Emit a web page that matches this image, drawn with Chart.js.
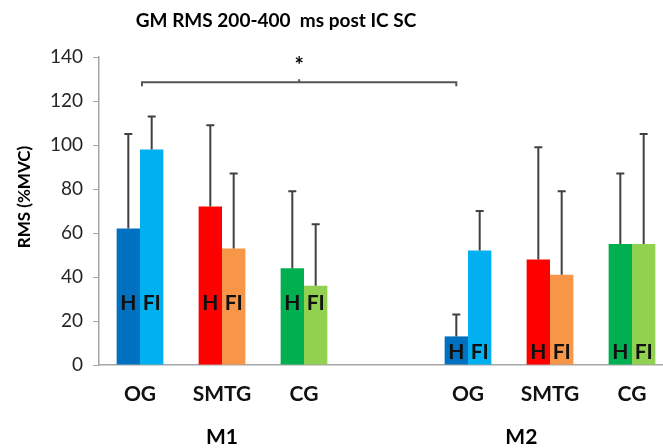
<!DOCTYPE html>
<html>
<head>
<meta charset="utf-8">
<script src="https://cdn.jsdelivr.net/npm/chart.js@4"></script>
<style>
  html, body { margin: 0; padding: 0; background: #fff; overflow: hidden; width: 663px; height: 448px; }
  #wrap { width: 676px; height: 448px; }
</style>
</head>
<body>
<div id="wrap"><canvas id="chart1" width="676" height="448"></canvas></div>
<script>
// categories (empty slot separates M1 and M2)
const labels = ['OG', 'SMTG', 'CG', '', 'OG', 'SMTG', 'CG'];
const groups = ['M1', 'M2'];
const groupAt = [1, 4.65];

// H bars
const hMeans = [62, 72, 44, null, 13, 48, 55];
const hSD = [43, 37, 35, null, 10, 51, 32];
const hColors = ['#0070C0', '#FF0000', '#00B050', '#fff', '#0070C0', '#FF0000', '#00B050'];

// FI bars
const fiMeans = [98, 53, 36, null, 52, 41, 55];
const fiSD = [15, 34, 28, null, 18, 38, 50];
const fiColors = ['#00B0F0', '#F79646', '#92D050', '#fff', '#00B0F0', '#F79646', '#92D050'];

const yTicks = [0, 20, 40, 60, 80, 100, 120, 140];

const FONT = 'Lato, "Open Sans", sans-serif';

const data = {
    labels: labels,
    datasets: [
        {
            label: 'H',
            data: hMeans,
            sd: hSD,
            backgroundColor: hColors,
            barPercentage: 1,
            categoryPercentage: 0.57,
        },
        {
            label: 'FI',
            data: fiMeans,
            sd: fiSD,
            backgroundColor: fiColors,
            barPercentage: 1,
            categoryPercentage: 0.57,
        }
    ]
};

// error bars, in-bar letters, significance bracket, titles
const extras = {
    id: 'extras',
    afterDatasetsDraw(chart) {
        const ctx = chart.ctx;
        const x = chart.scales.x;
        const y = chart.scales.y;
        ctx.save();

        // error bars
        ctx.strokeStyle = '#404040';
        ctx.lineWidth = 2;
        chart.data.datasets.forEach((ds, di) => {
            const meta = chart.getDatasetMeta(di);
            ds.data.forEach((v, i) => {
                if (v == null) return;
                const bx = meta.data[i].x;
                const y0 = y.getPixelForValue(v);
                const y1 = y.getPixelForValue(v + ds.sd[i]);
                ctx.beginPath();
                ctx.moveTo(bx, y0);
                ctx.lineTo(bx, y1);
                ctx.moveTo(bx - 4, y1);
                ctx.lineTo(bx + 4, y1);
                ctx.stroke();
            });
        });

        // H / FI letters inside the bars
        ctx.fillStyle = '#111';
        ctx.font = 'bold 21px ' + FONT;
        ctx.textAlign = 'center';
        ctx.textBaseline = 'middle';
        chart.data.datasets.forEach((ds, di) => {
            const meta = chart.getDatasetMeta(di);
            ds.data.forEach((v, i) => {
                if (v == null) return;
                const ly = i < 3 ? 28 : 6;
                ctx.fillText(ds.label, meta.data[i].x, y.getPixelForValue(ly));
            });
        });

        // significance bracket OG M1 vs OG M2 (H)
        const hMeta = chart.getDatasetMeta(0);
        const bx0 = x.getPixelForValue(0) + 2;
        const bx1 = hMeta.data[4].x;
        const by = y.getPixelForValue(128.5);
        ctx.strokeStyle = '#555';
        ctx.lineWidth = 2;
        ctx.beginPath();
        ctx.moveTo(bx0, by + 4);
        ctx.lineTo(bx0, by);
        ctx.lineTo(bx1, by);
        ctx.lineTo(bx1, by + 4);
        const mid = (bx0 + bx1) / 2;
        ctx.moveTo(mid, by);
        ctx.lineTo(mid, by - 3);
        ctx.stroke();
        ctx.fillStyle = '#000';
        ctx.font = 'bold 22px ' + FONT;
        ctx.fillText('*', mid, y.getPixelForValue(136));

        // group labels
        ctx.font = 'bold 21px ' + FONT;
        groups.forEach((g, k) => {
            ctx.fillText(g, x.getPixelForValue(groupAt[k]), 437);
        });

        // chart title
        ctx.font = 'bold 19px ' + FONT;
        ctx.fillText('GM RMS 200-400  ms post IC SC', 276, 21);

        // y axis title
        ctx.translate(25, 197);
        ctx.rotate(-Math.PI / 2);
        ctx.font = 'bold 17px ' + FONT;
        ctx.fillText('RMS (%MVC)', 0, 0);
        ctx.restore();
    }
};

const config = {
    type: 'bar',
    data: data,
    options: {
        responsive: false,
        animation: false,
        layout: {
            padding: { top: 57, right: 3, bottom: 0, left: 0 }
        },
        plugins: {
            legend: { display: false },
            tooltip: { enabled: false },
            title: { display: false }
        },
        scales: {
            x: {
                grid: { display: false },
                border: { color: '#a6a6a6', width: 1.5 },
                ticks: {
                    color: '#111',
                    padding: 9,
                    font: { family: FONT, size: 21, weight: 'bold' }
                },
                afterFit(scale) { scale.height = 83; }
            },
            y: {
                min: 0,
                max: 140,
                afterBuildTicks(scale) {
                    scale.ticks = yTicks.map(v => ({ value: v }));
                },
                grid: {
                    drawOnChartArea: false,
                    tickLength: 6,
                    color: '#a6a6a6'
                },
                border: { color: '#a6a6a6', width: 1.5 },
                ticks: {
                    color: '#262626',
                    padding: 10,
                    font: { family: FONT, size: 19 }
                },
                afterFit(scale) { scale.width = 99; }
            }
        }
    },
    plugins: [extras]
};

const chart1 = new Chart(document.getElementById('chart1'), config);
</script>
</body>
</html>
